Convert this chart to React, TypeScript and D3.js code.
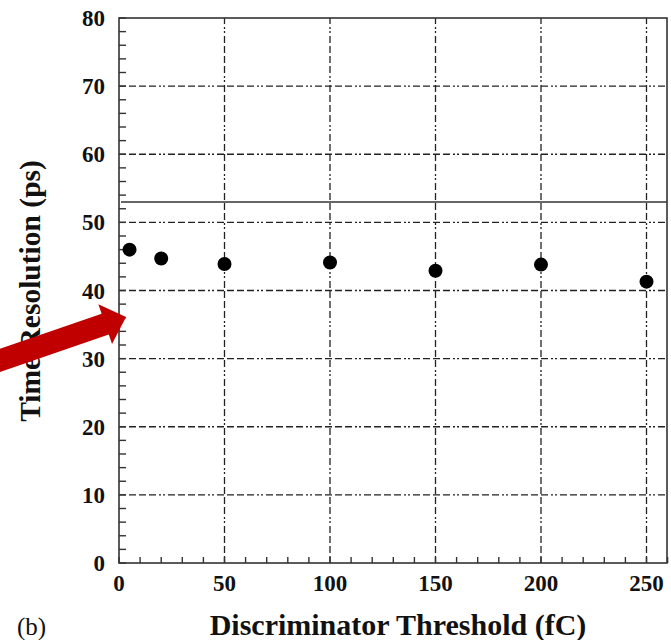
import React from "react";
import * as d3 from "d3";

const thresholds = [5, 20, 50, 100, 150, 200, 250];
const resolution = [46.0, 44.7, 43.9, 44.1, 42.9, 43.8, 41.3];
const xTicks = [0, 50, 100, 150, 200, 250];
const yTicks = [0, 10, 20, 30, 40, 50, 60, 70, 80];
const xMinor = d3.range(0, 261, 10);
const yMinor = d3.range(0, 81, 2);
const refLine = 53;

const W = 671;
const H = 640;
const L = 119;
const R = 667;
const T = 18;
const B = 563;

export default function App() {
  const x = d3.scaleLinear().domain([0, 260]).range([L, L + (646.5 - L) * 260 / 250]);
  const y = d3.scaleLinear().domain([0, 80]).range([B, T]);
  const font = "'Liberation Serif', 'DejaVu Serif', serif";
  const dash = "7,3,7,3,7,3,7,3,2,2,2,3";

  // arrow annotation
  const tipX = 126, tipY = 317, ang = -19, len = 145, headL = 22, headW = 21, shaftW = 11;
  const arrowPts = [
    [-len, -shaftW], [-headL, -shaftW], [-headL, -headW], [0, 0],
    [-headL, headW], [-headL, shaftW], [-len, shaftW],
  ].map((p) => p.join(",")).join(" ");

  return (
    <svg width={W} height={H} style={{ position: "absolute", left: 0, top: 0, background: "#fff" }}>
      {yTicks.filter((t) => t > 0 && t < 80).map((t) => (
        <line key={"gy" + t} x1={L} x2={R} y1={y(t)} y2={y(t)} stroke="#222" strokeWidth={1.3} strokeDasharray={dash} />
      ))}
      {xTicks.filter((t) => t > 0).map((t) => (
        <line key={"gx" + t} x1={x(t)} x2={x(t)} y1={B} y2={T} stroke="#222" strokeWidth={1.3} strokeDasharray={dash} />
      ))}
      <line x1={L + 2} x2={R} y1={y(refLine)} y2={y(refLine)} stroke="#333" strokeWidth={1.4} />
      {yMinor.map((t) => (
        <line key={"my" + t} x1={L} x2={L + 7} y1={y(t)} y2={y(t)} stroke="#333" strokeWidth={1.4} />
      ))}
      {xMinor.map((t) => (
        <line key={"mx" + t} x1={x(t)} x2={x(t)} y1={B} y2={B - 6} stroke="#333" strokeWidth={1.4} />
      ))}
      <rect x={L} y={T} width={R - L} height={B - T} fill="none" stroke="#333" strokeWidth={1.6} />
      {thresholds.map((t, i) => (
        <circle key={"p" + i} cx={x(t)} cy={y(resolution[i])} r={7} fill="#000" />
      ))}
      {yTicks.map((t) => (
        <text key={"ly" + t} x={105} y={y(t)} dy="0.35em" textAnchor="end" fontFamily={font} fontWeight="bold" fontSize={23} fill="#111">{t}</text>
      ))}
      {xTicks.map((t) => (
        <text key={"lx" + t} x={x(t)} y={591} textAnchor="middle" fontFamily={font} fontWeight="bold" fontSize={23} fill="#111">{t}</text>
      ))}
      <text x={398} y={635} textAnchor="middle" fontFamily={font} fontWeight="bold" fontSize={30} fill="#111">Discriminator Threshold (fC)</text>
      <text transform={`translate(40,291) rotate(-90)`} textAnchor="middle" fontFamily={font} fontWeight="bold" fontSize={29.5} fill="#111">Time Resolution (ps)</text>
      <text x={17} y={635} fontFamily={font} fontSize={25} fill="#111">(b)</text>
      <polygon points={arrowPts} transform={`translate(${tipX},${tipY}) rotate(${ang})`} fill="#C00000" />
    </svg>
  );
}
